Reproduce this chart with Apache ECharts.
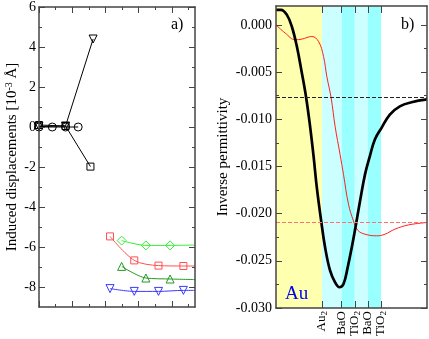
<!DOCTYPE html>
<html>
<head>
<meta charset="utf-8">
<script src="https://cdn.jsdelivr.net/npm/echarts@6/dist/echarts.min.js"></script>
<style>
  html, body { margin: 0; padding: 0; background: #fff; }
  #main { width: 429px; height: 339px; }
</style>
</head>
<body>
<div id="main"></div>
<script>
// ---- panel a) induced displacements ----
var circX = [0, 0.40, 0.80, 1.18];
var circY = [0, 0, 0, 0];
var sqX = [0, 0.80, 1.55];
var sqY = [0.1, 0.05, -1.98];
var triX = [0, 0.80, 1.63];
var triY = [0.02, 0.05, 4.4];

// coloured sets, last x is the right edge (line only, no marker)
var colX1 = [2.14, 2.87, 3.60, 4.35, 4.7];
var colX2 = [2.49, 3.22, 3.95, 4.7];
var redY = [-5.47, -6.67, -6.93, -6.95, -6.95];
var blueY = [-8.08, -8.22, -8.22, -8.17, -8.17];
var greenY = [-5.68, -5.92, -5.92, -5.9];
var dkGreenY = [-6.97, -7.55, -7.6, -7.63];

var aMajorX = [0, 1, 2, 3, 4];
var aMinorX = [0.5, 1.5, 2.5, 3.5, 4.5];
var aMajorY = [-8, -6, -4, -2, 0, 2, 4, 6];
var aMinorY = [-7, -5, -3, -1, 1, 3, 5];

// ---- panel b) inverse permittivity ----
var layerPos = [3.5, 5, 6, 7, 8];
var layerNames = ['Au2', 'BaO', 'TiO2', 'BaO', 'TiO2'];
var bandEdges = [0, 3.5, 5, 6, 7, 8];
var bandColors = ['#ffffb0', '#ccffff', '#99ffff', '#ccffff', '#99ffff'];

var epsBlackX = [0, 0.38, 0.83, 1.21, 1.59, 1.97, 2.30, 2.60, 2.86, 3.11, 3.44, 3.74, 4.12, 4.50, 4.83,
                 5.14, 5.46, 5.77, 6.07, 6.40, 6.78, 7.15, 7.53, 8.04, 8.67, 9.43, 10.32, 11.5];
var epsBlackY = [0.00158, 0.0016, 0.00106, -0.0002, -0.0023, -0.0051, -0.00774, -0.0108, -0.0139, -0.01725,
                 -0.02077, -0.02358, -0.02605, -0.02728, -0.0278, -0.02746, -0.02569, -0.02358, -0.0213,
                 -0.01866, -0.01584, -0.0139, -0.01214, -0.01091, -0.0095, -0.00863, -0.0082, -0.0079];
var epsRedX = [0, 0.71, 1.47, 1.97, 2.73, 3.24, 3.62, 3.87, 4.20, 4.50, 4.88, 5.14, 5.52, 5.90, 6.22,
               6.78, 7.66, 8.30, 9.05, 10.07, 11.5];
var epsRedY = [0, -0.00088, -0.00158, -0.00151, -0.00123, -0.00176, -0.00335, -0.00546, -0.00774, -0.01074,
               -0.01373, -0.01584, -0.019, -0.02077, -0.02175, -0.02218, -0.02235, -0.02218, -0.02165,
               -0.0212, -0.02094];
var dashLevels = [-0.0077, -0.0209];
var bMajorY = [-0.030, -0.025, -0.020, -0.015, -0.010, -0.005, 0.000];
var bMinorY = [-0.0275, -0.0225, -0.0175, -0.0125, -0.0075, -0.0025];

var FONT = 'Liberation Serif';
var AXC = '#444';

function pts(xs, ys, edge) {
  return xs.map(function (x, i) {
    if (edge && i === xs.length - 1) return { value: [x, ys[i]], symbol: 'none' };
    return [x, ys[i]];
  });
}

function axis(grid, pos, min, max, ticks, len, line, label) {
  return {
    type: 'value', gridIndex: grid, position: pos, min: min, max: max, z: 5,
    axisLine: { show: line, onZero: false, lineStyle: { color: AXC, width: 1.5 } },
    axisTick: { show: true, inside: true, length: len, customValues: ticks, lineStyle: { color: AXC, width: 1 } },
    axisLabel: label || { show: false },
    splitLine: { show: false }
  };
}

var yLabA = { show: true, customValues: aMajorY, margin: 3, fontFamily: FONT, fontSize: 14, color: '#000' };
var yLabB = {
  show: true, customValues: bMajorY, margin: 4, fontFamily: FONT, fontSize: 14, color: '#000',
  formatter: function (v) { return (Math.abs(v) < 1e-9 ? 0 : v).toFixed(3); }
};
var xLabB = {
  show: true, customValues: layerPos, rotate: 90, margin: 3,
  formatter: function (v) {
    var i = layerPos.indexOf(v);
    var n = layerNames[i] || '';
    var m = n.match(/^(.*?)(\d+)$/);
    return m ? '{n|' + m[1] + '}{s|' + m[2] + '}' : '{n|' + n + '}';
  },
  rich: {
    n: { fontFamily: FONT, fontSize: 13, color: '#000', lineHeight: 14 },
    s: { fontFamily: FONT, fontSize: 9, color: '#000', verticalAlign: 'bottom', lineHeight: 14 }
  }
};

var yA = axis(0, 'left', -9, 6, aMajorY, 6, true, yLabA);
yA.name = '{a|Induced displacements [10}{b|-3}{a| Å]}';
yA.nameLocation = 'middle';
yA.nameGap = 19;
yA.nameTextStyle = {
  rich: {
    a: { fontFamily: FONT, fontSize: 15, color: '#000', lineHeight: 16 },
    b: { fontFamily: FONT, fontSize: 10, color: '#000', verticalAlign: 'top', lineHeight: 16 }
  }
};

var yB = axis(1, 'left', -0.03, 0.002, bMajorY, 6, true, yLabB);
yB.name = 'Inverse permittivity';
yB.nameLocation = 'middle';
yB.nameGap = 45;
yB.nameTextStyle = { fontFamily: FONT, fontSize: 15, color: '#000' };

var xAxes = [
  axis(0, 'bottom', 0, 4.7, aMajorX, 6, true),
  axis(0, 'bottom', 0, 4.7, aMinorX, 3, false),
  axis(0, 'top', 0, 4.7, aMajorX, 6, true),
  axis(0, 'top', 0, 4.7, aMinorX, 3, false),
  axis(1, 'bottom', 0, 11.5, layerPos, 7, true, xLabB),
  axis(1, 'top', 0, 11.5, layerPos, 7, true)
];
var yAxes = [
  yA,
  axis(0, 'left', -9, 6, aMinorY, 3, false),
  axis(0, 'right', -9, 6, aMajorY, 6, true),
  axis(0, 'right', -9, 6, aMinorY, 3, false),
  yB,
  axis(1, 'left', -0.03, 0.002, bMinorY, 3, false),
  axis(1, 'right', -0.03, 0.002, bMajorY, 6, true),
  axis(1, 'right', -0.03, 0.002, bMinorY, 3, false)
];

// hollow markers with a 1px outline, line passes through them
function lineA(data, color, symbol, size, rot, smooth) {
  return {
    type: 'line', xAxisIndex: 0, yAxisIndex: 0, data: data, z: 3,
    symbol: symbol, symbolSize: size, symbolRotate: rot || 0, smooth: smooth || false,
    showAllSymbol: true,
    lineStyle: { color: color, width: 1 },
    itemStyle: { color: 'rgba(0,0,0,0)', borderColor: color, borderWidth: 1 }
  };
}

var bands = bandColors.map(function (c, i) {
  return [{ xAxis: bandEdges[i], itemStyle: { color: c } }, { xAxis: bandEdges[i + 1] }];
});

var series = [
  lineA(pts(circX, circY), '#000', 'circle', 8),
  lineA(pts(sqX, sqY), '#000', 'rect', 7),
  lineA(pts(triX, triY), '#000', 'triangle', 8, 180),
  lineA(pts(colX1, redY, true), '#ff5050', 'rect', 7, 0, 0.3),
  lineA(pts(colX2, greenY, true), '#33ee33', 'diamond', 9, 0, 0.3),
  lineA(pts(colX2, dkGreenY, true), '#229922', 'triangle', 8, 0, 0.3),
  lineA(pts(colX1, blueY, true), '#3838ff', 'triangle', 8, 180, 0.3),
  {
    type: 'line', xAxisIndex: 4, yAxisIndex: 4, data: [], z: 1, silent: true,
    markArea: { silent: true, itemStyle: { opacity: 1 }, data: bands }
  },
  {
    type: 'line', xAxisIndex: 4, yAxisIndex: 4, data: pts(epsRedX, epsRedY), z: 3,
    symbol: 'none', smooth: 0.4, lineStyle: { color: '#ff2020', width: 1 },
    markLine: {
      silent: true, symbol: 'none', precision: 6, label: { show: false },
      lineStyle: { color: '#ff7070', type: [4, 2], width: 1 },
      data: [{ yAxis: dashLevels[1] }]
    }
  },
  {
    type: 'line', xAxisIndex: 4, yAxisIndex: 4, data: pts(epsBlackX, epsBlackY), z: 4,
    symbol: 'none', smooth: 0.4, lineStyle: { color: '#000', width: 2.7 },
    markLine: {
      silent: true, symbol: 'none', precision: 6, label: { show: false },
      lineStyle: { color: '#222', type: [4, 2], width: 1 },
      data: [{ yAxis: dashLevels[0] }]
    }
  }
];

var chart = echarts.init(document.getElementById('main'));
chart.setOption({
  animation: false,
  grid: [
    { left: 39, top: 6, width: 156, height: 301 },
    { left: 276, top: 6, width: 151, height: 303 }
  ],
  xAxis: xAxes,
  yAxis: yAxes,
  series: series,
  graphic: [
    { type: 'text', left: 171, top: 17, style: { text: 'a)', fontFamily: FONT, fontSize: 16, fill: '#000' } },
    { type: 'text', left: 401, top: 17, style: { text: 'b)', fontFamily: FONT, fontSize: 16, fill: '#000' } },
    { type: 'text', left: 285, top: 285, z: 10, style: { text: 'Au', fontFamily: FONT, fontSize: 19, fill: '#0000ee' } }
  ]
});
</script>
</body>
</html>
